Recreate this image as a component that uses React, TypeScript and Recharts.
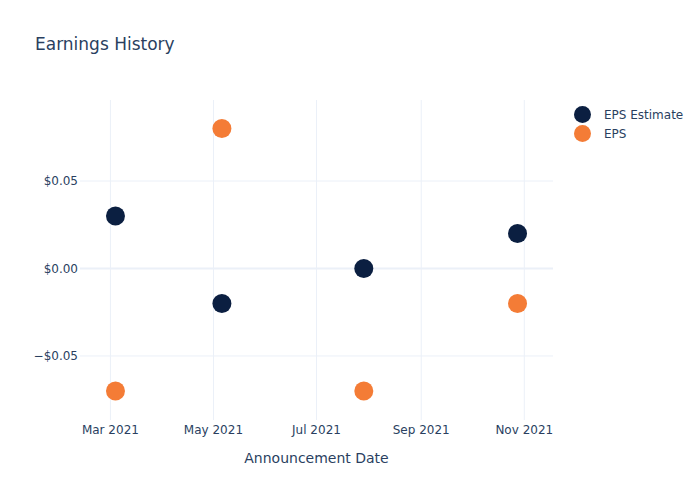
import { ScatterChart, Scatter, XAxis, YAxis, CartesianGrid, ReferenceLine } from "recharts";

const announceDates = ["2021-03-04", "2021-05-06", "2021-07-29", "2021-10-28"];
const epsEstimate = [0.03, -0.02, 0.0, 0.02];
const epsActual = [-0.07, 0.08, -0.07, -0.02];
const xTickDates = ["2021-03-01", "2021-05-01", "2021-07-01", "2021-09-01", "2021-11-01"];
const yTicks = [-0.05, 0, 0.05];

const MONTHS = ["Jan", "Feb", "Mar", "Apr", "May", "Jun", "Jul", "Aug", "Sep", "Oct", "Nov", "Dec"];
const FONT = "'DejaVu Sans', 'Open Sans', Verdana, Arial, sans-serif";
const TEXT = "#2a3f5f";
const GRID = "#ebf0f8";
const NAVY = "#0b1f41";
const ORANGE = "#f47c36";

const toTs = (d: string) => Date.parse(d + "T00:00:00Z");

const estimateData = announceDates.map((d, i) => ({ date: toTs(d), value: epsEstimate[i] }));
const epsData = announceDates.map((d, i) => ({ date: toTs(d), value: epsActual[i] }));
const xTicks = xTickDates.map(toTs);
const xDomain = [toTs("2021-02-11"), toTs("2021-11-18")];

function fmtDate(v: number) {
  const d = new Date(v);
  return `${MONTHS[d.getUTCMonth()]} ${d.getUTCFullYear()}`;
}

function fmtUsd(v: number) {
  const s = `$${Math.abs(v).toFixed(2)}`;
  return v < -1e-9 ? `\u2212${s}` : s;
}

const dot = (color: string) => (props: any) => (
  <circle cx={props.cx} cy={props.cy} r={9.5} fill={color} />
);

export default function App() {
  return (
    <div style={{ position: "absolute", left: 0, top: 0, width: 700, height: 500, background: "#fff", fontFamily: FONT }}>
      <div style={{ position: "absolute", left: 35, top: 34, fontSize: 17, color: TEXT }}>Earnings History</div>
      <ScatterChart width={700} height={500} margin={{ top: 100, right: 147, left: 20, bottom: 30 }}>
        <CartesianGrid stroke={GRID} strokeWidth={1} horizontalValues={yTicks} verticalValues={xTicks} />
        <ReferenceLine y={0} stroke={GRID} strokeWidth={2} />
        <XAxis
          type="number"
          dataKey="date"
          domain={xDomain}
          ticks={xTicks}
          tickFormatter={fmtDate}
          allowDataOverflow
          axisLine={false}
          tickLine={false}
          tickSize={0}
          tickMargin={5}
          height={50}
          tick={{ fontSize: 12, fill: TEXT, fontFamily: FONT }}
          label={{ value: "Announcement Date", position: "insideBottom", offset: 7, fontSize: 14, fill: TEXT, fontFamily: FONT }}
        />
        <YAxis
          type="number"
          dataKey="value"
          domain={[-0.0866, 0.0963]}
          ticks={yTicks}
          tickFormatter={fmtUsd}
          allowDataOverflow
          axisLine={false}
          tickLine={false}
          tickSize={0}
          tickMargin={2}
          width={60}
          tick={{ fontSize: 12, fill: TEXT, fontFamily: FONT }}
        />
        <Scatter name="EPS Estimate" data={estimateData} fill={NAVY} shape={dot(NAVY)} isAnimationActive={false} />
        <Scatter name="EPS" data={epsData} fill={ORANGE} shape={dot(ORANGE)} isAnimationActive={false} />
      </ScatterChart>
      <div style={{ position: "absolute", left: 574, top: 105, fontSize: 12, color: TEXT }}>
        {[["EPS Estimate", NAVY], ["EPS", ORANGE]].map(([name, c]) => (
          <div key={name} style={{ display: "flex", alignItems: "center", height: 19 }}>
            <span style={{ width: 17, height: 17, borderRadius: "50%", background: c, display: "inline-block" }} />
            <span style={{ marginLeft: 13 }}>{name}</span>
          </div>
        ))}
      </div>
    </div>
  );
}
